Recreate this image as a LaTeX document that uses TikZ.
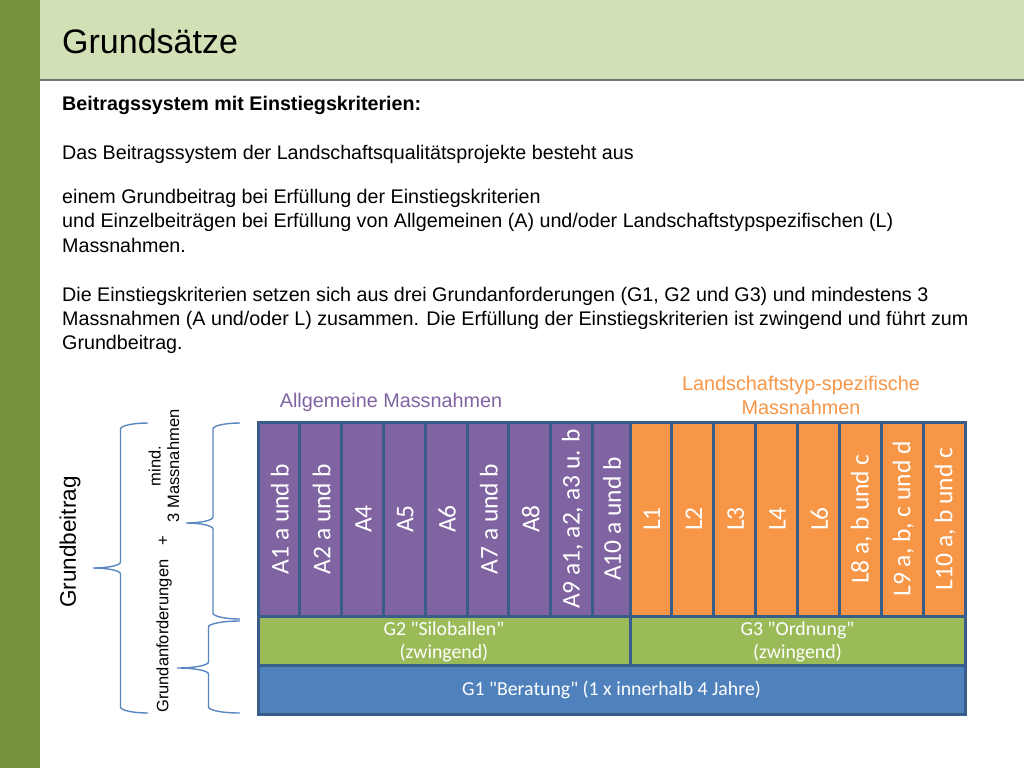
\documentclass[tikz,border=0pt]{standalone}
\usepackage{fontspec}
\setmainfont{Liberation Sans}
\newfontfamily\calfont{Carlito}
\definecolor{hdr}{HTML}{D2E0B6}
\definecolor{strip}{HTML}{77933C}
\definecolor{purp}{HTML}{8064A2}
\definecolor{orng}{HTML}{F79646}
\definecolor{grn}{HTML}{9BBB59}
\definecolor{blu}{HTML}{4F81BD}
\definecolor{bord}{HTML}{385D8A}
\definecolor{brc}{HTML}{5B87C0}
\newcommand\mycol[5]{%
  \draw[cellb, fill=#3] (#1,422) rectangle (#2,616);
  \node[coltext, rotate=90] (#4) at ({(#1+#2)/2+1},519) {#5};}
% xend, xspine, xtip, ytop, ybot, ytip
\newcommand\mybrace[6]{%
  \draw[brace] (#1,#4) .. controls ({#1-0.55*(#1-#2)},#4) and (#2,{#4+6-0.55*6}) .. (#2,{#4+6})
   -- (#2,{#6-6}) .. controls (#2,{#6-6+0.55*6}) and ({#3+0.55*(#2-#3)},#6) .. (#3,#6)
   .. controls ({#3+0.55*(#2-#3)},#6) and (#2,{#6+6-0.55*6}) .. (#2,{#6+6})
   -- (#2,{#5-6}) .. controls (#2,{#5-6+0.55*6}) and ({#1-0.55*(#1-#2)},#5) .. (#1,#5);}
\begin{document}
\begin{tikzpicture}[x=1pt,y=-1pt,
  body/.style={anchor=base west, inner sep=0pt, font=\fontsize{19.7}{24}\selectfont},
  cellb/.style={draw=bord, line width=3pt},
  coltext/.style={text=white, inner sep=0pt, font=\calfont\fontsize{25.5}{30}\selectfont},
  gtext/.style={text=white, inner sep=0pt, align=center, font=\calfont\fontsize{19.8}{23.3}\selectfont},
  brace/.style={draw=brc, line width=1.4pt}]
\useasboundingbox (0,0) rectangle (1024,768);
\fill[white] (0,0) rectangle (1024,768);
\fill[strip] (0,0) rectangle (40,768);
\fill[hdr] (40,0) rectangle (1024,79);
\draw[line width=2pt, draw=gray!90!black] (40,80) -- (1024,80);
\node[anchor=base west, inner sep=0pt, font=\fontsize{34}{40}\selectfont] (title) at (62,54) {Grundsätze};

\node[body, font=\bfseries\fontsize{19.7}{24}\selectfont] (t1) at (62,110) {Beitragssystem mit Einstiegskriterien:};
\node[body] (t2) at (62,159) {Das Beitragssystem der Landschaftsqualitätsprojekte besteht aus};
\node[body] (t3) at (62,203) {einem Grundbeitrag bei Erfüllung der Einstiegskriterien};
\node[body] (t4) at (62,227) {und Einzelbeiträgen bei Erfüllung von Allgemeinen (A) und/oder Landschaftstypspezifischen (L)};
\node[body] (t5) at (62,252) {Massnahmen.};
\node[body] (t6) at (62,301) {Die Einstiegskriterien setzen sich aus drei Grundanforderungen (G1, G2 und G3) und mindestens 3};
\node[body] (t7) at (62,325) {Massnahmen (A und/oder L) zusammen. Die Erfüllung der Einstiegskriterien ist zwingend und führt zum};
\node[body] (t8) at (62,349) {Grundbeitrag.};

% headings
\node[text=purp, inner sep=0pt, font=\fontsize{19.8}{24}\selectfont] (am) at (391,402) {Allgemeine Massnahmen};
\node[text=orng, inner sep=0pt, align=center, font=\fontsize{19.8}{24}\selectfont] (lm) at (801,395) {Landschaftstyp-spezifische\\Massnahmen};

% columns
\mycol{258}{299.8}{purp}{a1}{A1 a und b}
\mycol{299.8}{341.6}{purp}{a2}{A2 a und b}
\mycol{341.6}{383.4}{purp}{a4}{A4}
\mycol{383.4}{425.2}{purp}{a5}{A5}
\mycol{425.2}{467}{purp}{a6}{A6}
\mycol{467}{508.8}{purp}{a7}{A7 a und b}
\mycol{508.8}{550.6}{purp}{a8}{A8}
\mycol{550.6}{592.4}{purp}{a9}{A9 a1, a2, a3 u. b}
\mycol{592.4}{630}{purp}{a10}{A10 a und b}
\mycol{630}{671.9}{orng}{l1}{L1}
\mycol{671.9}{713.8}{orng}{l2}{L2}
\mycol{713.8}{755.6}{orng}{l3}{L3}
\mycol{755.6}{797.5}{orng}{l4}{L4}
\mycol{797.5}{839.4}{orng}{l6}{L6}
\mycol{839.4}{881.3}{orng}{l8}{L8 a, b und c}
\mycol{881.3}{923.1}{orng}{l9}{L9 a, b, c und d}
\mycol{923.1}{965}{orng}{l10}{L10 a, b und c}

% G rows
\draw[cellb, fill=grn] (258,616) rectangle (630,665);
\node[gtext] (g2) at (444,642) {G2 "Siloballen"\\(zwingend)};
\draw[cellb, fill=grn] (630,616) rectangle (965,665);
\node[gtext] (g3) at (797.5,642) {G3 "Ordnung"\\(zwingend)};
\draw[cellb, fill=blu] (258,665) rectangle (965,714);
\node[gtext] (g1) at (611.5,690) {G1 "Beratung" (1 x innerhalb 4 Jahre)};

% left annotations
\node[rotate=90, inner sep=0pt, font=\fontsize{22.5}{27}\selectfont] (gb) at (70,542) {Grundbeitrag};
\node[rotate=90, anchor=west, inner sep=0pt, font=\fontsize{16.5}{19}\selectfont] (ga) at (164,713) {Grundanforderungen\hspace{14pt}+};
\node[rotate=90, align=center, inner sep=0pt, font=\fontsize{16.5}{18.5}\selectfont] (mm) at (164,466) {mind.\\3 Massnahmen};

\mybrace{148}{120.5}{93}{423}{713}{568}
\mybrace{240}{213}{186}{423}{619}{523}
\mybrace{240}{208.5}{177}{621}{713}{668}
\end{tikzpicture}
\end{document}
